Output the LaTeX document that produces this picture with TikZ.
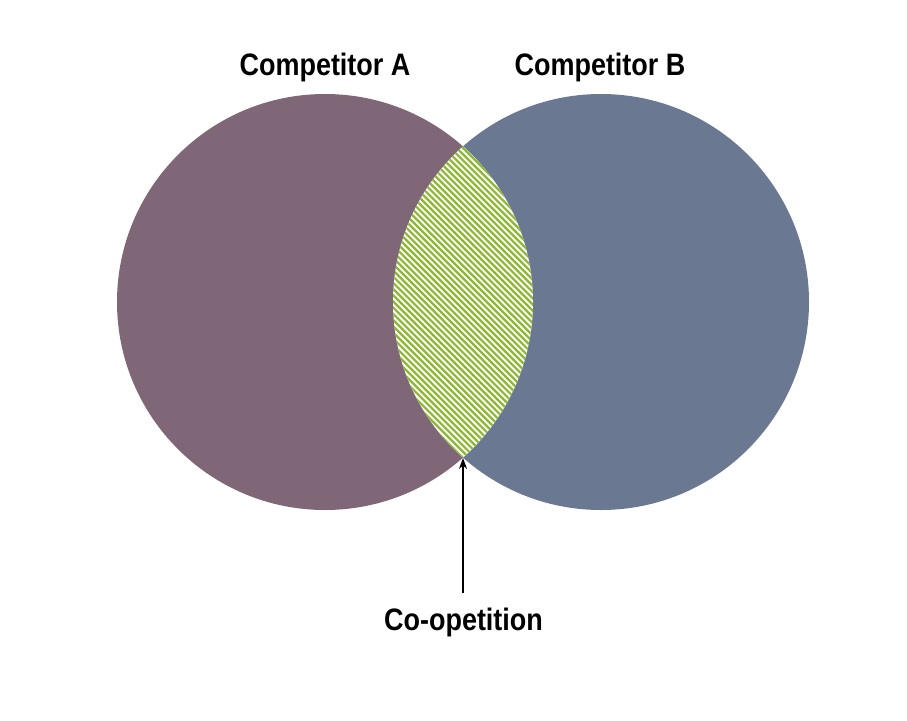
\documentclass[tikz,border=0pt]{standalone}
\usepackage{fontspec}
\setmainfont[FakeStretch=0.87]{Liberation Sans}
\usetikzlibrary{arrows.meta}
\definecolor{colA}{RGB}{128,103,120}
\definecolor{colB}{RGB}{106,120,145}
\definecolor{hatch}{RGB}{140,184,50}
\tikzset{
  label/.style={font=\fontsize{31}{36}\selectfont\bfseries, inner sep=0pt, anchor=base},
  pointer/.style={-{Stealth[length=11pt,width=8pt]}, line width=1.6pt, black}
}
\begin{document}
\begin{tikzpicture}[x=1pt,y=-1pt]
\useasboundingbox (0,0) rectangle (907,720);
\fill[white] (0,0) rectangle (907,720);
\coordinate (cA) at (325,302);
\coordinate (cB) at (601,302);
\fill[colA] (cA) circle[radius=208pt];
\fill[colB] (cB) circle[radius=208pt];
\begin{scope}
  \clip (cA) circle[radius=208pt];
  \clip (cB) circle[radius=208pt];
  \fill[white] (380,130) rectangle (550,470);
  \foreach \i in {-400,-393.8,...,200}
    \draw[hatch, line width=2.2pt] (\i+380,130) -- (\i+720,470);
\end{scope}
\node[label] (tA) at (325,75) {Competitor A};
\node[label] (tB) at (600,75) {Competitor B};
\node[label] (co) at (463.5,630) {Co-opetition};
\coordinate (tip) at (463,458);
\coordinate (tail) at (463,593);
\draw[pointer] (tail) -- (tip);
\end{tikzpicture}
\end{document}
